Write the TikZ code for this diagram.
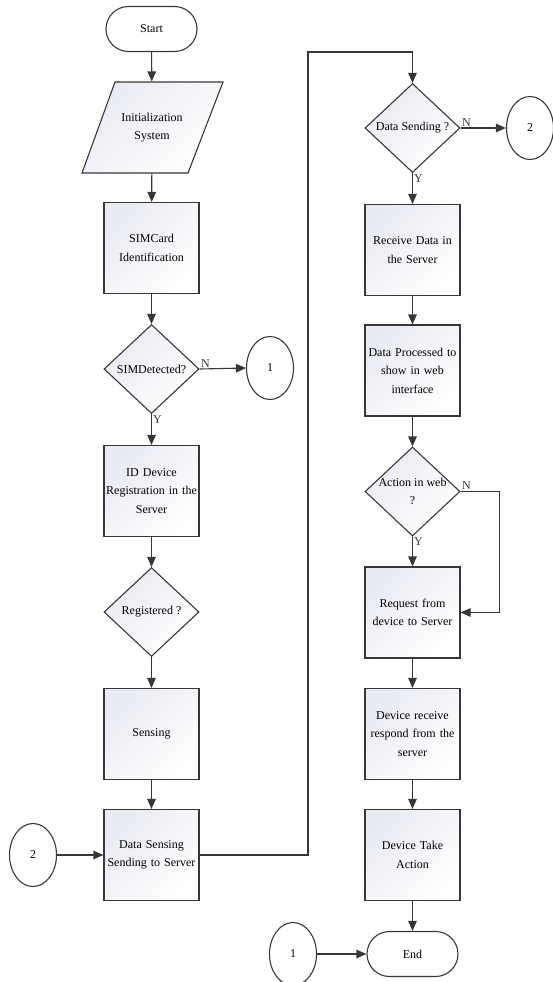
\documentclass[tikz,border=0pt]{standalone}
\usepackage{fontspec}
\setmainfont{Liberation Serif}
\usepackage{tikz}
\usetikzlibrary{shapes.geometric,shapes.misc,arrows.meta}

\definecolor{boxtint}{RGB}{233,235,243}
\definecolor{edgegray}{RGB}{55,55,55}

\begin{document}
\begin{tikzpicture}[x=1pt,y=-1pt,line width=1.1pt,draw=edgegray,
    font=\fontsize{12}{18.5}\selectfont,
    base/.style={draw=edgegray,line width=1.1pt,align=center,inner sep=2pt},
    tinted/.style={top color=boxtint,bottom color=white,shading angle=45},
    terminal/.style={base,rounded rectangle,minimum width=95pt,minimum height=45pt},
    process/.style={base,tinted,rectangle,minimum width=95pt,minimum height=91pt,text width=91pt},
    decision/.style={base,tinted,diamond,minimum width=95pt,minimum height=89pt,inner sep=0pt},
    connector/.style={base,ellipse,minimum width=47pt,minimum height=63pt},
    arr/.style={-{Triangle[length=10pt,width=8.5pt]},edgegray},
    yn/.style={inner sep=1pt}]
    \useasboundingbox (0,0) rectangle (552,982);

    % input box (slanted), text node on top
    \draw[base,tinted] (82,173) -- (115,82) -- (223,82) -- (188,173) -- cycle;

    % left column
    \node[terminal] (start) at (151.5,29) {Start};
    \node[align=center,minimum height=91pt,minimum width=107pt] (init) at (152,127.5) {Initialization\\System};
    \node[process] (simcard) at (151.5,248) {SIMCard\\Identification};
    \node[decision,label=center:SIMDetected?] (simdet) at (151.5,369) {};
    \node[connector] (conA) at (270,368) {1};
    \node[process] (iddev) at (151.5,491) {ID Device\\Registration in the\\Server};
    \node[decision,label=center:Registered ?] (reg) at (151.5,612) {};
    \node[process] (sensing) at (151.5,734) {Sensing};
    \node[process] (sendsrv) at (151.5,855) {Data Sensing\\Sending to Server};
    \node[connector] (conB) at (33,855) {2};

    % right column
    \node[decision,label=center:Data Sending ?] (sendq) at (412.5,128) {};
    \node[connector] (conC) at (530,128) {2};
    \node[process] (receive) at (412.5,250) {Receive Data in\\the Server};
    \node[process] (procweb) at (412.5,370.5) {Data Processed to\\show in web\\interface};
    \node[decision,label={[align=center]center:Action in web\\?}] (action) at (412.5,491.5) {};
    \node[process] (request) at (412.5,612.5) {Request from\\device to Server};
    \node[process] (devrecv) at (412.5,734) {Device receive\\respond from the\\server};
    \node[process] (take) at (412.5,855) {Device Take\\Action};
    \node[terminal] (endn) at (412.5,954) {End};
    \node[connector] (conD) at (293,954) {1};

    \coordinate (loopup) at (308,52);

    % flow
    \draw[arr] (start) -- (init);
    \draw[arr] (init) -- (simcard);
    \draw[arr] (simcard) -- (simdet);
    \draw[arr] (simdet.east) -- (conA.west) node[pos=0,yn,anchor=south west] {N};
    \draw[arr] (simdet.south) -- (iddev) node[pos=0,yn,anchor=north west] {Y};
    \draw[arr] (iddev) -- (reg);
    \draw[arr] (reg) -- (sensing);
    \draw[arr] (sensing) -- (sendsrv);
    \draw[arr] (conB) -- (sendsrv);
    \draw[arr] (sendsrv.east) -| (loopup) -| (sendq.north);
    \draw[arr] (sendq.east) -- (conC.west) node[pos=0,yn,anchor=south west] {N};
    \draw[arr] (sendq.south) -- (receive) node[pos=0,yn,anchor=north west] {Y};
    \draw[arr] (receive) -- (procweb);
    \draw[arr] (procweb) -- (action);
    \draw[arr] (action.south) -- (request) node[pos=0,yn,anchor=north west] {Y};
    \draw[arr] (action.east) node[yn,anchor=south west] {N} -- ++(39,0) |- (request.east);
    \draw[arr] (request) -- (devrecv);
    \draw[arr] (devrecv) -- (take);
    \draw[arr] (take) -- (endn);
    \draw[arr] (conD) -- (endn);
\end{tikzpicture}
\end{document}
